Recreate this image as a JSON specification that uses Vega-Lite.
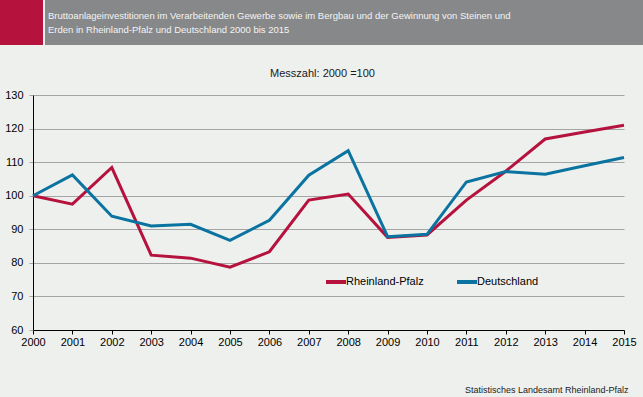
{
  "$schema": "https://vega.github.io/schema/vega-lite/v6.json",
  "background": "#EEF0EE",
  "padding": {"left": 0, "top": 0, "right": 0, "bottom": 6},
  "config": {"view": {"stroke": null}, "font": "Liberation Sans"},
  "spacing": 95,
  "bounds": "flush",
  "resolve": {"legend": {"color": "independent"}},
  "vconcat": [
    {
      "spacing": 2,
      "bounds": "flush",
      "hconcat": [
        {"width": 43, "height": 45, "view": {"fill": "#B5123E", "stroke": null}, "data": {"values": [{"t": ""}]}, "mark": {"type": "text"}, "encoding": {"text": {"field": "t"}}},
        {"width": 598, "height": 45, "view": {"fill": "#878889", "stroke": null},
         "data": {"values": [{"t": "Bruttoanlageinvestitionen im Verarbeitenden Gewerbe sowie im Bergbau und der Gewinnung von Steinen und\nErden in Rheinland-Pfalz und Deutschland 2000 bis 2015"}]},
         "mark": {"type": "text", "align": "left", "baseline": "top", "font": "Liberation Sans", "fontSize": 9.5, "color": "#F4F4F4", "lineBreak": "\n", "lineHeight": 13.5},
         "encoding": {"text": {"field": "t"}, "x": {"value": 3}, "y": {"value": 11}}}
      ]
    },
    {
      "spacing": 32,
      "bounds": "flush",
      "hconcat": [
        {"width": 1, "height": 1, "data": {"values": [{"t": ""}]}, "mark": {"type": "text"}, "encoding": {"text": {"field": "t"}}},
        {
          "width": 591,
          "height": 235,
          "title": {"text": "Messzahl: 2000 =100", "fontSize": 11, "fontWeight": "normal", "color": "#1a1a1a", "anchor": "middle", "offset": 10, "dx": -6},
          "data": {"values": [
            {"year": 2000, "region": "Rheinland-Pfalz", "value": 100},
            {"year": 2001, "region": "Rheinland-Pfalz", "value": 97.5},
            {"year": 2002, "region": "Rheinland-Pfalz", "value": 108.4},
            {"year": 2003, "region": "Rheinland-Pfalz", "value": 82.3},
            {"year": 2004, "region": "Rheinland-Pfalz", "value": 81.4},
            {"year": 2005, "region": "Rheinland-Pfalz", "value": 78.7},
            {"year": 2006, "region": "Rheinland-Pfalz", "value": 83.3},
            {"year": 2007, "region": "Rheinland-Pfalz", "value": 98.7},
            {"year": 2008, "region": "Rheinland-Pfalz", "value": 100.5},
            {"year": 2009, "region": "Rheinland-Pfalz", "value": 87.6},
            {"year": 2010, "region": "Rheinland-Pfalz", "value": 88.3},
            {"year": 2011, "region": "Rheinland-Pfalz", "value": 98.7},
            {"year": 2012, "region": "Rheinland-Pfalz", "value": 107.3},
            {"year": 2013, "region": "Rheinland-Pfalz", "value": 116.9},
            {"year": 2014, "region": "Rheinland-Pfalz", "value": 119},
            {"year": 2015, "region": "Rheinland-Pfalz", "value": 121},
            {"year": 2000, "region": "Deutschland", "value": 100},
            {"year": 2001, "region": "Deutschland", "value": 106.2},
            {"year": 2002, "region": "Deutschland", "value": 93.9},
            {"year": 2003, "region": "Deutschland", "value": 91},
            {"year": 2004, "region": "Deutschland", "value": 91.5},
            {"year": 2005, "region": "Deutschland", "value": 86.7},
            {"year": 2006, "region": "Deutschland", "value": 92.7},
            {"year": 2007, "region": "Deutschland", "value": 106.1},
            {"year": 2008, "region": "Deutschland", "value": 113.4},
            {"year": 2009, "region": "Deutschland", "value": 87.8},
            {"year": 2010, "region": "Deutschland", "value": 88.5},
            {"year": 2011, "region": "Deutschland", "value": 104.1},
            {"year": 2012, "region": "Deutschland", "value": 107.2},
            {"year": 2013, "region": "Deutschland", "value": 106.4},
            {"year": 2014, "region": "Deutschland", "value": 108.9},
            {"year": 2015, "region": "Deutschland", "value": 111.4}
          ]},
          "mark": {"type": "line", "strokeWidth": 3},
          "encoding": {
            "x": {"field": "year", "type": "quantitative", "scale": {"domain": [2000, 2015], "nice": false, "zero": false},
                  "axis": {"values": [2000,2001,2002,2003,2004,2005,2006,2007,2008,2009,2010,2011,2012,2013,2014,2015], "format": "d", "title": "Statistisches Landesamt Rheinland-Pfalz", "titleX": 595, "titleY": 59, "titleAlign": "right", "titleBaseline": "middle", "titleFontSize": 9, "titleFontWeight": "normal", "titleColor": "#1a1a1a", "grid": false, "domainColor": "#000000", "tickColor": "#000000", "tickSize": 4, "labelFontSize": 11, "labelColor": "#000000", "labelPadding": 2, "labelFlush": false, "labelOverlap": false}},
            "y": {"field": "value", "type": "quantitative", "scale": {"domain": [60, 130], "nice": false, "zero": false},
                  "axis": {"values": [60,70,80,90,100,110,120,130], "title": null, "grid": true, "gridColor": "#A5A5A5", "domainColor": "#000000", "tickColor": "#A5A5A5", "tickSize": 4, "labelPadding": 6, "labelColor": "#000000", "labelFontSize": 11}},
            "color": {"field": "region", "type": "nominal", "scale": {"domain": ["Rheinland-Pfalz", "Deutschland"], "range": ["#B5123E", "#0A73A0"]},
                      "legend": {"orient": "none", "legendX": 324, "legendY": 175, "direction": "horizontal", "title": null, "symbolType": "stroke", "symbolStrokeWidth": 4, "symbolSize": 400, "labelFontSize": 11, "labelColor": "#000000", "columnPadding": 25, "labelOffset": -2}}
          }
        }
      ]
    }
  ]
}
